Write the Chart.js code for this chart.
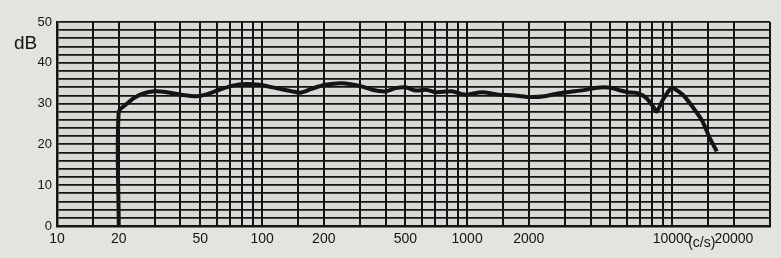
<!DOCTYPE html>
<html>
<head>
<meta charset="utf-8">
<script src="https://cdn.jsdelivr.net/npm/chart.js@4"></script>
<style>
  html, body { margin: 0; padding: 0; background: #e3e3df; }
  #wrap { width: 781px; height: 258px; }
</style>
</head>
<body>
<div id="wrap"><canvas id="resp" width="781" height="258"></canvas></div>
<script>
// frequency (c/s) and level (dB)
const freqs = [20, 20, 22, 23.5, 26, 30, 35, 41, 48, 53, 62, 72, 83, 97, 117, 140, 155, 174, 203, 245,
  296, 345, 400, 448, 500, 560, 630, 700, 840, 975, 1180, 1420, 1700, 2050, 2380, 2770, 3200, 3700,
  4300, 5000, 5600, 6100, 6850, 7500, 8100, 8400, 9100, 9900, 10300, 11300, 12400, 14000, 15200, 16500];
const levels = [0, 28, 30, 31.2, 32.4, 33, 32.7, 32.1, 31.8, 32.2, 33.4, 34.4, 34.8, 34.6, 33.8, 33.0, 32.7, 33.6, 34.6, 35.0,
  34.4, 33.4, 33.0, 33.8, 34.0, 33.2, 33.4, 32.8, 33.0, 32.2, 32.8, 32.2, 32.0, 31.6, 31.8, 32.5, 32.9, 33.3,
  33.9, 33.9, 33.2, 32.8, 32.5, 31.3, 29.2, 28.1, 31.3, 33.8, 33.6, 32.1, 29.6, 25.8, 21.7, 18.3];

const freqGrid = [10, 15, 20, 30, 40, 50, 60, 70, 80, 90, 100, 150, 200, 300, 400, 500, 600, 700, 800, 900,
  1000, 1500, 2000, 3000, 4000, 5000, 6000, 7000, 8000, 9000, 10000, 15000, 20000, 30000];
const freqLabels = [10, 20, 50, 100, 200, 500, 1000, 2000, 10000, 20000];
const dbLabels = [0, 10, 20, 30, 40, 50];

const points = freqs.map((f, i) => ({ x: f, y: levels[i] }));
const ink = '#141414';

const paperPlugin = {
  id: 'paper',
  beforeDraw(chart) {
    const { ctx, chartArea: a } = chart;
    ctx.save();
    ctx.fillStyle = '#d9d9d6';
    ctx.fillRect(a.left, a.top, a.right - a.left, a.bottom - a.top);
    ctx.restore();
  },
  afterDraw(chart) {
    const { ctx } = chart;
    const x = chart.scales.x;
    ctx.save();
    ctx.fillStyle = ink;
    ctx.font = '19px "Liberation Sans"';
    ctx.textBaseline = 'middle';
    ctx.fillText('dB', 14, 44);
    ctx.font = '14px "Liberation Sans"';
    ctx.fillText('(c/s)', x.getPixelForValue(10000) + 16, 243);
    ctx.restore();
  }
};

new Chart(document.getElementById('resp'), {
  type: 'line',
  data: {
    datasets: [{
      data: points,
      borderColor: ink,
      borderWidth: 4,
      pointRadius: 0,
      tension: 0.3,
      fill: false
    }]
  },
  options: {
    responsive: false,
    animation: false,
    layout: { padding: { top: 22, right: 11, left: 0, bottom: 0 } },
    plugins: { legend: { display: false }, tooltip: { enabled: false } },
    scales: {
      x: {
        type: 'logarithmic',
        min: 10,
        max: 30000,
        afterBuildTicks(scale) { scale.ticks = freqGrid.map(v => ({ value: v })); },
        afterFit(scale) { scale.height = 32; },
        grid: { color: ink, lineWidth: 2, drawTicks: false },
        border: { color: ink, width: 2.5 },
        ticks: {
          autoSkip: false,
          maxRotation: 0,
          padding: 5,
          color: ink,
          font: { family: 'Liberation Sans', size: 14 },
          callback: (v) => freqLabels.includes(v) ? String(v) : ''
        }
      },
      y: {
        min: 0,
        max: 50,
        afterBuildTicks(scale) {
          const t = [];
          for (let v = 0; v <= 50; v += 2) t.push({ value: v });
          scale.ticks = t;
        },
        afterFit(scale) { scale.width = 57; },
        grid: { color: ink, lineWidth: 1.8, drawTicks: false },
        border: { color: ink, width: 2.5 },
        ticks: {
          autoSkip: false,
          padding: 5,
          color: ink,
          font: { family: 'Liberation Sans', size: 13 },
          callback: (v) => dbLabels.includes(v) ? String(v) : ''
        }
      }
    }
  },
  plugins: [paperPlugin]
});
</script>
</body>
</html>
